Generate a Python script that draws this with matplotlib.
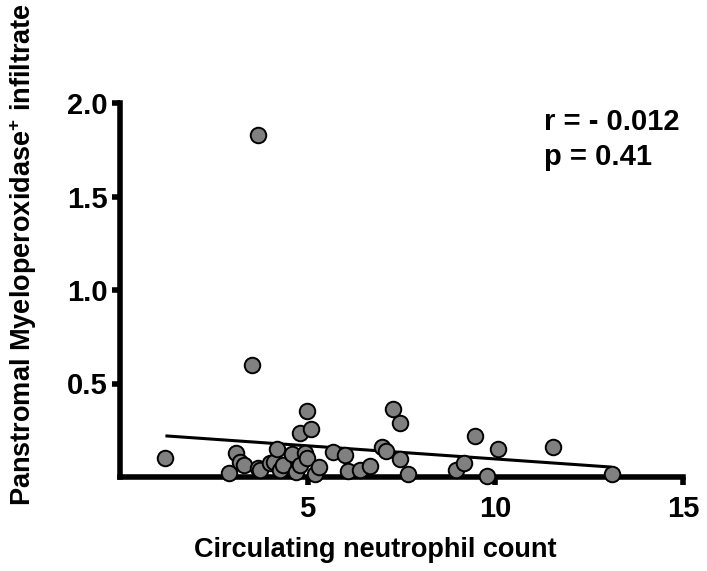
import matplotlib
matplotlib.use("Agg")
import matplotlib.pyplot as plt
import numpy as np

plt.rcParams['font.family'] = ['Liberation Sans', 'DejaVu Sans']
plt.rcParams['font.weight'] = 'bold'
plt.rcParams['mathtext.fontset'] = 'custom'
plt.rcParams['mathtext.rm'] = 'Liberation Sans:bold'
plt.rcParams['mathtext.bf'] = 'Liberation Sans:bold'

# Circulating neutrophil count vs panstromal MPO+ infiltrate
neutrophils = [1.21, 2.90, 3.10, 3.19, 3.30, 3.51, 3.67, 3.68, 3.72, 4.00,
               4.10, 4.19, 4.25, 4.34, 4.57, 4.70, 4.79, 4.79, 4.92, 4.97,
               4.99, 5.10, 5.19, 5.29, 5.67, 5.99, 6.07, 6.39, 6.67, 6.97,
               7.08, 7.27, 7.47, 7.47, 7.67, 8.95, 9.16, 9.45, 9.77, 10.06,
               11.54, 13.10]
mpo_infiltrate = [0.10, 0.02, 0.13, 0.08, 0.065, 0.60, 1.83, 0.05, 0.035, 0.073,
                  0.082, 0.15, 0.04, 0.064, 0.125, 0.028, 0.064, 0.237, 0.127, 0.10,
                  0.355, 0.255, 0.015, 0.052, 0.135, 0.118, 0.034, 0.037, 0.059, 0.162,
                  0.141, 0.362, 0.29, 0.095, 0.016, 0.037, 0.073, 0.219, 0.007, 0.148,
                  0.162, 0.014]

# Linear regression line
fit_slope = -0.01405
fit_intercept = 0.237

x_ticks = [5, 10, 15]
y_ticks = [0.5, 1.0, 1.5, 2.0]
y_ticklabels = ['0.5', '1.0', '1.5', '2.0']

W, H = 707, 571
fig = plt.figure(figsize=(W / 100, H / 100), dpi=100)
ax = fig.add_axes([120 / W, 1 - 477 / H, (683 - 120) / W, (477 - 103) / H])

xs = np.array([min(neutrophils), max(neutrophils)])
ax.plot(xs, fit_intercept + fit_slope * xs, color='black', lw=2.2, zorder=2,
        solid_capstyle='butt')
ax.scatter(neutrophils, mpo_infiltrate, s=125, facecolor='#808080',
           edgecolor='black', linewidth=1.4, zorder=3, clip_on=False)

ax.set_xlim(0, 15)
ax.set_ylim(0, 2.0)
ax.set_xticks(x_ticks)
ax.set_yticks(y_ticks)
ax.set_yticklabels(y_ticklabels)

for side in ('top', 'right'):
    ax.spines[side].set_visible(False)
for side in ('left', 'bottom'):
    ax.spines[side].set_linewidth(4.0)
    ax.spines[side].set_capstyle('projecting')
ax.tick_params(axis='both', direction='out', width=4.0, length=6,
               labelsize=21, pad=3)
ax.tick_params(axis='x', pad=7)

ax.set_xlabel('Circulating neutrophil count', fontsize=19.5, fontweight='bold')
ax.xaxis.set_label_coords((375 - 120) / 563, -(550 - 477) / 374)
ax.xaxis.label.set_va('center')
ax.set_ylabel(r'Panstromal Myeloperoxidase$^{+}$ infiltrate', fontsize=19.5,
              fontweight='bold')
ax.yaxis.set_label_coords(-(120 - 23) / 563, (477 - 254) / 374)
ax.yaxis.label.set_va('center')

# Correlation statistics
fig.text(544 / W, 1 - 122 / H, 'r = - 0.012', fontsize=21,
         fontweight='bold', va='center', ha='left')
fig.text(544 / W, 1 - 157 / H, 'p = 0.41', fontsize=21,
         fontweight='bold', va='center', ha='left')

fig.savefig('out.png', dpi=100)
